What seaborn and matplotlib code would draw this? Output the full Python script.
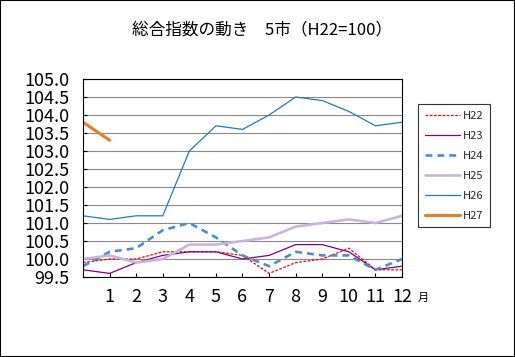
import numpy as np
import pandas as pd
import matplotlib
matplotlib.use("Agg")
import matplotlib.pyplot as plt
import seaborn as sns

months = list(range(0, 13))
h22 = [99.9, 100.0, 100.0, 100.2, 100.2, 100.2, 100.1, 99.6, 99.9, 100.0, 100.3, 99.7, 99.7]
h23 = [99.7, 99.6, 99.9, 100.1, 100.2, 100.2, 100.0, 100.1, 100.4, 100.4, 100.2, 99.7, 99.8]
h24 = [99.8, 100.2, 100.3, 100.8, 101.0, 100.6, 100.1, 99.8, 100.2, 100.1, 100.1, 99.7, 100.0]
h25 = [100.0, 100.1, 99.9, 100.0, 100.4, 100.4, 100.5, 100.6, 100.9, 101.0, 101.1, 101.0, 101.2]
h26 = [101.2, 101.1, 101.2, 101.2, 103.0, 103.7, 103.6, 104.0, 104.5, 104.4, 104.1, 103.7, 103.8]
h27 = [103.8, 103.3]

series_names = ["H22", "H23", "H24", "H25", "H26", "H27"]
series_vals = [h22, h23, h24, h25, h26, h27]
x_ticks = list(range(1, 13))
x_ticklabels = [str(m) for m in x_ticks]
y_ticks = [99.5 + 0.5 * i for i in range(12)]
y_ticklabels = [f"{v:.1f}" for v in y_ticks]
title = "総合指数の動き　5市（H22=100）"

sns.set_theme(style="white")
plt.rcParams["font.family"] = ["Noto Sans CJK JP", "DejaVu Sans"]

W, H = 515, 357
fig = plt.figure(figsize=(W / 100, H / 100), dpi=100)
fig.patch.set_facecolor("white")
ax = fig.add_axes([83 / W, 1 - 277 / H, (402 - 83) / W, (277 - 79) / H])

styles = {
    "H22": dict(color="#FF0000", linewidth=0.9, linestyle=(0, (2.2, 1.2))),
    "H23": dict(color="#800080", linewidth=0.9, linestyle="-"),
    "H24": dict(color="#4A8AD6", linewidth=1.9, linestyle=(0, (2.6, 1.9))),
    "H25": dict(color="#C9B4DC", linewidth=1.9, linestyle="-"),
    "H26": dict(color="#1F78C8", linewidth=0.9, linestyle="-"),
    "H27": dict(color="#E0812E", linewidth=2.3, linestyle="-"),
}

for name, vals in zip(series_names, series_vals):
    df = pd.DataFrame({"month": months[:len(vals)], "value": vals})
    sns.lineplot(data=df, x="month", y="value", ax=ax, label=name, **styles[name])

ax.set_xlim(0, 12)
ax.set_ylim(99.5, 105.0)
ax.set_xticks(x_ticks)
ax.set_xticklabels(x_ticklabels)
ax.set_yticks(y_ticks)
ax.set_yticklabels(y_ticklabels)
ax.set_xlabel("")
ax.set_ylabel("")
ax.yaxis.grid(True, color="#8A8A8A", linewidth=0.8, linestyle="-")
ax.xaxis.grid(False)
ax.set_axisbelow(True)
for s in ax.spines.values():
    s.set_color("black")
    s.set_linewidth(0.8)
ax.tick_params(axis="both", direction="in", length=3, width=0.8, color="black",
               labelsize=13, labelcolor="black")
ax.tick_params(axis="y", pad=10, left=True)
ax.tick_params(axis="x", pad=8, bottom=True)

fig.text(262 / W, 1 - 30 / H, title, ha="center", va="center", fontsize=12, color="black")
fig.text(423 / W, 1 - 298 / H, "月", ha="center", va="center", fontsize=8, color="black")

ax.get_legend().remove()
handles, labels = ax.get_legend_handles_labels()
leg = fig.legend(handles, labels, loc="upper left",
                 bbox_to_anchor=(418 / W, 1 - 104 / H), bbox_transform=fig.transFigure,
                 borderaxespad=0, frameon=True, fancybox=False, shadow=False,
                 fontsize=8, handlelength=3.15, handletextpad=0.25,
                 labelspacing=0.9, borderpad=0.6)
leg.get_frame().set_edgecolor("black")
leg.get_frame().set_linewidth(0.8)

fig.add_artist(plt.Rectangle((0, 0), 1, 1, transform=fig.transFigure, fill=False,
                             edgecolor="black", linewidth=1.5))

fig.savefig("out.png", dpi=100)
